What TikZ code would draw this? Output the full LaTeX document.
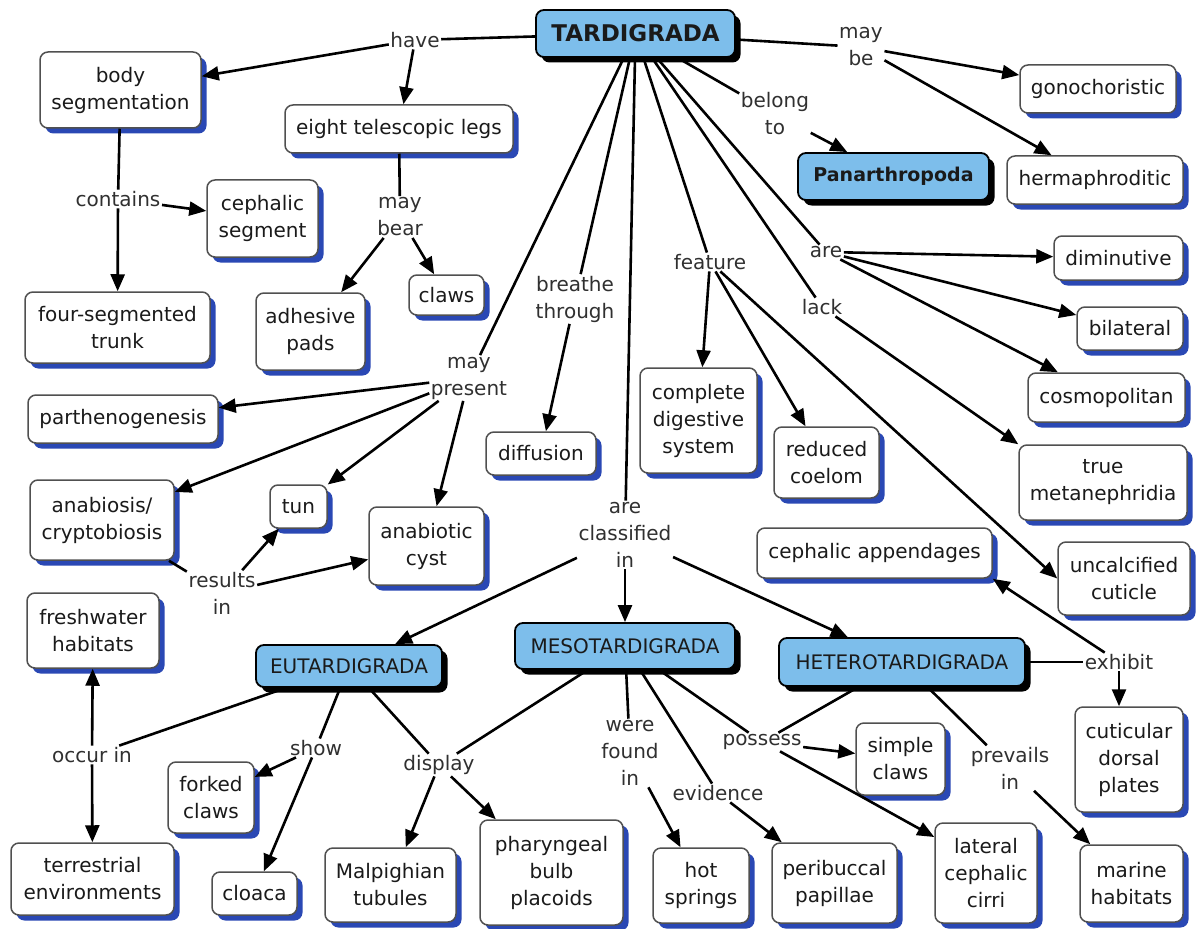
\documentclass[tikz,border=0pt]{standalone}
\usepackage{fontspec}
\setmainfont{DejaVu Sans}
\usetikzlibrary{arrows.meta,shadows}
\definecolor{cblue}{HTML}{7DBEEB}
\definecolor{sblue}{HTML}{2A48B4}
\definecolor{bord}{HTML}{505050}
\definecolor{txt}{HTML}{1A1A1A}
\definecolor{ltxt}{HTML}{303030}
\tikzset{
  wh/.style 2 args={minimum width=#1pt, minimum height=#2pt},
  concept/.style={draw=bord, line width=1.5pt, fill=white, rounded corners=8pt,
    align=center, text=txt, font=\fontsize{20}{27}\selectfont, inner sep=1pt,
    general shadow={fill=sblue, shadow xshift=5.5pt, shadow yshift=-5.5pt}},
  topic/.style={draw=black, line width=1.8pt, fill=cblue, rounded corners=8pt,
    align=center, text=txt, font=\fontsize{20}{27}\selectfont, inner sep=1pt,
    general shadow={fill=black, shadow xshift=5.5pt, shadow yshift=-5.5pt}},
  link/.style={align=center, text=ltxt, font=\fontsize{20}{27}\selectfont, inner sep=1.5pt},
  conn/.style={line width=2.6pt, draw=black},
  arr/.style={conn, -{Triangle[length=17pt,width=14pt]}},
}
\begin{document}
\begin{tikzpicture}[x=1pt,y=-1pt]
\useasboundingbox[fill=white] (0,0) rectangle (1198,928);
% concepts
\node[topic, wh={199}{47}, font=\fontsize{23}{27}\bfseries] (tard) at (635.5,33.5) {TARDIGRADA};
\node[concept, wh={161}{76}] (body) at (120.5,90) {body\\segmentation};
\node[concept, wh={228}{48}] (legs) at (399,129) {eight telescopic legs};
\node[concept, wh={111}{77}] (cseg) at (262.5,218.5) {cephalic\\segment};
\node[concept, wh={185}{71}] (trunk) at (117.5,327.5) {four-segmented\\trunk};
\node[concept, wh={109}{77}] (pads) at (310.5,331.5) {adhesive\\pads};
\node[concept, wh={75}{40}] (claws) at (446.5,295) {claws};
\node[concept, wh={190}{48}] (parth) at (123,419) {parthenogenesis};
\node[concept, wh={110}{43}] (diff) at (541,453.5) {diffusion};
\node[concept, wh={117}{105}] (cds) at (698.5,420.5) {complete\\digestive\\system};
\node[concept, wh={105}{71}] (coel) at (826.5,462.5) {reduced\\coelom};
\node[concept, wh={156}{48}] (gono) at (1098,89) {gonochoristic};
\node[topic, wh={191}{47}, font=\fontsize{19}{27}\bfseries] (pan) at (893.5,176.5) {Panarthropoda};
\node[concept, wh={176}{48}] (herm) at (1095,180) {hermaphroditic};
\node[concept, wh={129}{44}] (dimi) at (1118.5,258) {diminutive};
\node[concept, wh={106}{43}] (bil) at (1130,328.5) {bilateral};
\node[concept, wh={157}{49}] (cosmo) at (1106.5,397.5) {cosmopolitan};
\node[concept, wh={168}{75}] (meta) at (1103,482.5) {true\\metanephridia};
\node[concept, wh={132}{73}] (uncalc) at (1124,578.5) {uncalcified\\cuticle};
\node[concept, wh={235}{50}] (capp) at (874.5,553) {cephalic appendages};
\node[concept, wh={144}{80}] (anab) at (102,520) {anabiosis/\\cryptobiosis};
\node[concept, wh={57}{43}] (tun) at (298.5,506.5) {tun};
\node[concept, wh={115}{78}] (cyst) at (426.5,546) {anabiotic\\cyst};
\node[concept, wh={132}{75}] (fresh) at (93,630.5) {freshwater\\habitats};
\node[topic, wh={186}{42}] (eu) at (349,666) {EUTARDIGRADA};
\node[topic, wh={220}{46}] (meso) at (625,646) {MESOTARDIGRADA};
\node[topic, wh={246}{48}] (hetero) at (902,662) {HETEROTARDIGRADA};
\node[concept, wh={108}{105}] (cdp) at (1129,759.5) {cuticular\\dorsal\\plates};
\node[concept, wh={89}{72}] (sclaws) at (900.5,759) {simple\\claws};
\node[concept, wh={86}{71}] (fclaws) at (211,797.5) {forked\\claws};
\node[concept, wh={163}{72}] (terr) at (92.5,879) {terrestrial\\environments};
\node[concept, wh={85}{43}] (cloaca) at (254.5,893.5) {cloaca};
\node[concept, wh={131}{74}] (malp) at (390.5,885) {Malpighian\\tubules};
\node[concept, wh={143}{105}] (phar) at (551.5,872.5) {pharyngeal\\bulb\\placoids};
\node[concept, wh={96}{75}] (hot) at (701,885.5) {hot\\springs};
\node[concept, wh={125}{80}] (peri) at (834.5,883) {peribuccal\\papillae};
\node[concept, wh={102}{100}] (lcc) at (986,873) {lateral\\cephalic\\cirri};
\node[concept, wh={103}{77}] (marine) at (1131.5,883.5) {marine\\habitats};
% linking phrases
\node[link] (have) at (415,40) {have};
\node[link] (maybe) at (861,47) {may\\be};
\node[link] (belong) at (775,114) {belong\\to};
\node[link] (contains) at (118,199) {contains};
\node[link] (maybear) at (400,217) {may\\bear};
\node[link] (breathe) at (575,299) {breathe\\through};
\node[link] (feature) at (710,262) {feature};
\node[link] (are) at (826,252) {are};
\node[link] (lack) at (822,307) {lack};
\node[link] (maypres) at (469,378) {may\\present};
\node[link] (results) at (222,593) {results\\in};
\node[link] (classif) at (625,535) {are\\classified\\in};
\node[link] (occur) at (92,755) {occur in};
\node[link] (show) at (316,748) {show};
\node[link] (display) at (439,765) {display};
\node[link] (found) at (630,753) {were\\found\\in};
\node[link] (evid) at (718,793) {evidence};
\node[link] (possess) at (762,742) {possess};
\node[link] (prevails) at (1010,768) {prevails\\in};
\node[link] (exhibit) at (1119,662) {exhibit};
% connectors
\draw[conn] (tard) -- (have);
\draw[arr] (have) -- (body);
\draw[arr] (have) -- (legs);
\draw[conn] (tard) -- (maybe);
\draw[arr] (maybe) -- (gono);
\draw[arr] (maybe) -- (herm);
\draw[conn] (tard) -- (belong);
\draw[arr] (belong) -- (pan);
\draw[conn] (body) -- (contains);
\draw[arr] (contains) -- (cseg);
\draw[arr] (contains) -- (trunk);
\draw[conn] (legs) -- (maybear);
\draw[arr] (maybear) -- (pads);
\draw[arr] (maybear) -- (claws);
\draw[conn] (tard) -- (maypres);
\draw[arr] (maypres) -- (parth);
\draw[arr] (maypres) -- (anab);
\draw[arr] (maypres) -- (tun);
\draw[arr] (maypres) -- (cyst);
\draw[conn] (anab) -- (results);
\draw[arr] (results) -- (tun);
\draw[arr] (results) -- (cyst);
\draw[conn] (tard) -- (breathe);
\draw[arr] (breathe) -- (diff);
\draw[conn] (tard) -- (classif);
\draw[arr] (classif) -- (eu);
\draw[arr] (classif) -- (meso);
\draw[arr] (classif) -- (hetero);
\draw[conn] (tard) -- (feature);
\draw[arr] (feature) -- (cds);
\draw[arr] (feature) -- (coel);
\draw[arr] (feature) -- (uncalc.west);
\draw[conn] (tard) -- (are);
\draw[arr] (are) -- (dimi);
\draw[arr] (are) -- (bil);
\draw[arr] (are) -- (cosmo);
\draw[conn] (tard) -- (lack);
\draw[arr] (lack) -- (meta.north west);
\draw[conn] (eu) -- (occur);
\draw[arr] (occur) -- (fresh);
\draw[arr] (occur) -- (terr);
\draw[conn] (eu) -- (show);
\draw[arr] (show) -- (fclaws);
\draw[arr] (show) -- (cloaca);
\draw[conn] (eu) -- (display);
\draw[conn] (meso) -- (display);
\draw[arr] (display) -- (malp);
\draw[arr] (display) -- (phar);
\draw[conn] (meso) -- (found);
\draw[arr] (found) -- (hot);
\draw[conn] (meso) -- (evid);
\draw[arr] (evid) -- (peri);
\draw[conn] (meso) -- (possess);
\draw[conn] (hetero) -- (possess);
\draw[arr] (possess) -- (sclaws);
\draw[arr] ([xshift=18pt]possess.south) -- ([yshift=36pt]lcc.west);
\draw[conn] (hetero) -- (prevails);
\draw[arr] (prevails) -- (marine);
\draw[conn] (hetero) -- (exhibit);
\draw[arr] (exhibit) -- (capp.south east);
\draw[arr] (exhibit.south) -- (exhibit.south |- cdp.north);
\end{tikzpicture}
\end{document}
